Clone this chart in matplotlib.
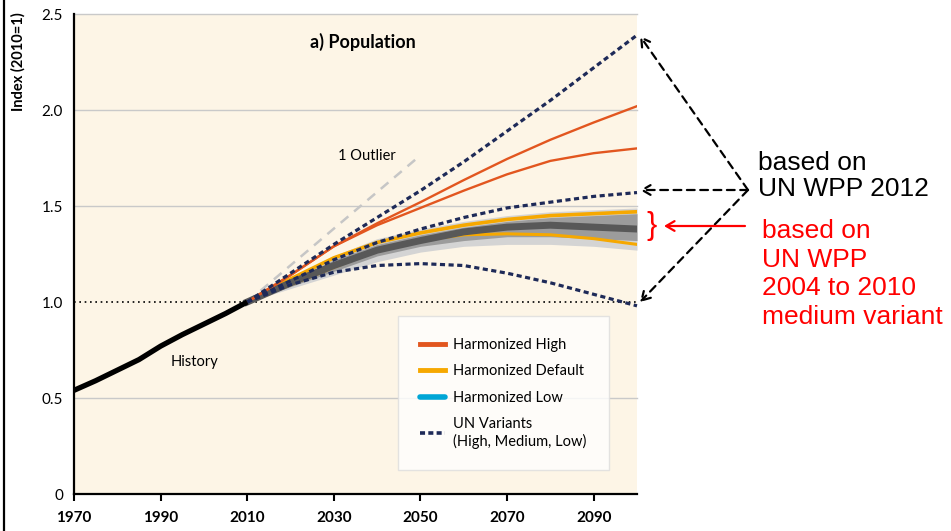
import matplotlib
matplotlib.use("Agg")
import matplotlib.pyplot as plt
from matplotlib.lines import Line2D
import numpy as np

# ---------------- data ----------------
hist_years = [1970, 1975, 1980, 1985, 1990, 1995, 2000, 2005, 2010]
hist_vals = [0.54, 0.59, 0.645, 0.70, 0.77, 0.83, 0.885, 0.94, 1.00]

proj_years = [2010, 2020, 2030, 2040, 2050, 2060, 2070, 2080, 2090, 2100]
un_high = [1.00, 1.15, 1.30, 1.44, 1.58, 1.73, 1.89, 2.05, 2.22, 2.39]
un_medium = [1.00, 1.11, 1.22, 1.31, 1.38, 1.44, 1.49, 1.52, 1.55, 1.57]
un_low = [1.00, 1.09, 1.155, 1.19, 1.20, 1.19, 1.15, 1.10, 1.04, 0.98]

harm_high_1 = [1.00, 1.14, 1.29, 1.41, 1.52, 1.635, 1.745, 1.845, 1.935, 2.02]
harm_high_2 = [1.00, 1.14, 1.29, 1.40, 1.49, 1.58, 1.665, 1.735, 1.775, 1.80]

default_upper = [1.00, 1.12, 1.23, 1.31, 1.36, 1.40, 1.43, 1.45, 1.46, 1.47]
default_lower = [1.00, 1.09, 1.18, 1.27, 1.32, 1.35, 1.355, 1.35, 1.33, 1.30]
default_median = [1.00, 1.10, 1.19, 1.27, 1.32, 1.365, 1.39, 1.40, 1.39, 1.38]
band_mid_upper = [1.00, 1.11, 1.22, 1.30, 1.35, 1.39, 1.42, 1.44, 1.45, 1.46]
band_mid_lower = [1.00, 1.08, 1.16, 1.24, 1.29, 1.32, 1.34, 1.34, 1.33, 1.32]
band_out_upper = [1.00, 1.13, 1.24, 1.33, 1.38, 1.42, 1.45, 1.47, 1.48, 1.49]
band_out_lower = [1.00, 1.07, 1.14, 1.21, 1.26, 1.29, 1.30, 1.30, 1.29, 1.27]

outlier_years = [2010, 2049]
outlier_vals = [1.00, 1.745]

x_ticks = [1970, 1990, 2010, 2030, 2050, 2070, 2090]
y_ticks = [0, 0.5, 1.0, 1.5, 2.0, 2.5]
y_tick_labels = ["0", "0.5", "1.0", "1.5", "2.0", "2.5"]

legend_labels = ["Harmonized High", "Harmonized Default", "Harmonized Low",
                 "UN Variants\n(High, Medium, Low)"]

# ---------------- style ----------------
RED = "#E2561F"
ORANGE = "#F6A800"
BLUE = "#00A6D6"
NAVY = "#1E2A58"
CREAM = "#FDF5E6"
FONT = "Lato"

W, H = 951, 531
fig = plt.figure(figsize=(W / 100, H / 100), dpi=100)
fig.patch.set_facecolor("white")

def fx(px):
    return px / W

def fy(py):
    return 1 - py / H

ax = fig.add_axes([fx(74), fy(494), fx(637) - fx(74), fy(14) - fy(494)])
ax.set_facecolor(CREAM)
ax.set_xlim(1970, 2100)
ax.set_ylim(0, 2.5)

# grid
for yv in [0.5, 1.5, 2.0, 2.5]:
    ax.axhline(yv, color="#C9C9C9", lw=1.0, zorder=1, clip_on=False)
ax.axhline(1.0, color="black", lw=1.2, ls=(0, (1, 2.2)), zorder=1)

# bands
ax.fill_between(proj_years, band_out_lower, band_out_upper, color="#D4D4D4", lw=0, zorder=2)
ax.fill_between(proj_years, band_mid_lower, band_mid_upper, color="#9C9C9C", lw=0, zorder=3)

# outlier
ax.plot(outlier_years, outlier_vals, color="#C6C6C6", lw=1.8, ls=(0, (4, 3)), zorder=3)

# harmonized default lines
ax.plot(proj_years, default_upper, color=ORANGE, lw=2.6, zorder=4)
ax.plot(proj_years, default_lower, color=ORANGE, lw=2.2, zorder=4)
ax.plot(proj_years, default_median, color="#585858", lw=5, zorder=5)

# harmonized high
ax.plot(proj_years, harm_high_1, color=RED, lw=1.7, zorder=6)
ax.plot(proj_years, harm_high_2, color=RED, lw=1.7, zorder=6)

# UN variants
for vals in (un_high, un_medium, un_low):
    ax.plot(proj_years, vals, color=NAVY, lw=2.3, ls=(0, (1.6, 1.1)), zorder=7,
            clip_on=False)

# history
ax.plot(hist_years, hist_vals, color="black", lw=3.8, zorder=8, solid_capstyle="butt")

# spines / ticks
for s in ["top", "right"]:
    ax.spines[s].set_visible(False)
ax.spines["left"].set_linewidth(1.6)
ax.spines["bottom"].set_linewidth(1.6)
ax.set_xticks(x_ticks)
ax.set_xticklabels([str(x) for x in x_ticks], fontfamily=FONT, fontweight="bold", fontsize=11)
ax.set_yticks(y_ticks)
ax.set_yticklabels(y_tick_labels, fontfamily=FONT, fontsize=11)
ax.tick_params(axis="x", direction="out", length=5, width=1.5, pad=7)
ax.tick_params(axis="y", length=0, pad=8)

# texts inside
ax.text(2036.7, 2.354, "a) Population", fontfamily=FONT, fontweight="bold",
        fontsize=13, ha="center", va="center", zorder=9)
ax.text(2037.7, 1.76, "1 Outlier", fontfamily=FONT, fontsize=10.5,
        ha="center", va="center", zorder=9)
ax.text(1997.9, 0.69, "History", fontfamily=FONT, fontsize=10.5,
        ha="center", va="center", zorder=9)

# legend
handles = [
    Line2D([], [], color=RED, lw=3.5),
    Line2D([], [], color=ORANGE, lw=3.5),
    Line2D([], [], color=BLUE, lw=4, solid_capstyle="round"),
    Line2D([], [], color=NAVY, lw=2.6, ls=(0, (1.4, 0.9))),
]
leg = ax.legend(handles, legend_labels, loc="upper left",
                bbox_to_anchor=((398 - 74) / 563, (494 - 316) / 480),
                prop={"family": FONT, "size": 10.5}, frameon=True,
                fancybox=False, borderpad=1.5, labelspacing=0.85,
                handlelength=1.7, handletextpad=0.6, borderaxespad=0)
leg.get_frame().set_edgecolor("#DDDDDD")
leg.get_frame().set_linewidth(1.0)
leg.set_zorder(10)

# y label
fig.text(fx(18), fy(62), "Index (2010=1)", rotation=90, fontfamily=FONT,
         fontweight="bold", fontsize=10.5, ha="center", va="center")

# left border line
fig.add_artist(Line2D([fx(4), fx(4)], [0, 1], color="black", lw=1.6))

# annotations (figure coordinates)
ANN = "Liberation Sans"
fig.text(fx(758), fy(176), "based on\nUN WPP 2012", fontfamily=ANN, fontsize=19,
         color="black", ha="left", va="center", linespacing=1.15)
fig.text(fx(762), fy(274), "based on\nUN WPP\n2004 to 2010\nmedium variant",
         fontfamily=ANN, fontsize=19, color="#FF0000", ha="left", va="center",
         linespacing=1.25)

src = (fx(748), fy(190))
for tip in [(fx(640), fy(36)), (fx(640), fy(190)), (fx(640), fy(302))]:
    fig.add_artist(matplotlib.patches.FancyArrowPatch(
        src, tip, transform=fig.transFigure, arrowstyle="->,head_length=6,head_width=3.5",
        color="black", lw=1.6, linestyle=(0, (3.5, 2.5)), shrinkA=0, shrinkB=0))

fig.add_artist(matplotlib.patches.FancyArrowPatch(
    (fx(745), fy(226)), (fx(664), fy(226)), transform=fig.transFigure,
    arrowstyle="->,head_length=6,head_width=3.5", color="#FF0000", lw=1.6,
    shrinkA=0, shrinkB=0))
fig.text(fx(652), fy(226), "}", fontfamily=ANN, fontsize=22, color="#FF0000",
         ha="center", va="center")

fig.savefig("out.png", dpi=100)
